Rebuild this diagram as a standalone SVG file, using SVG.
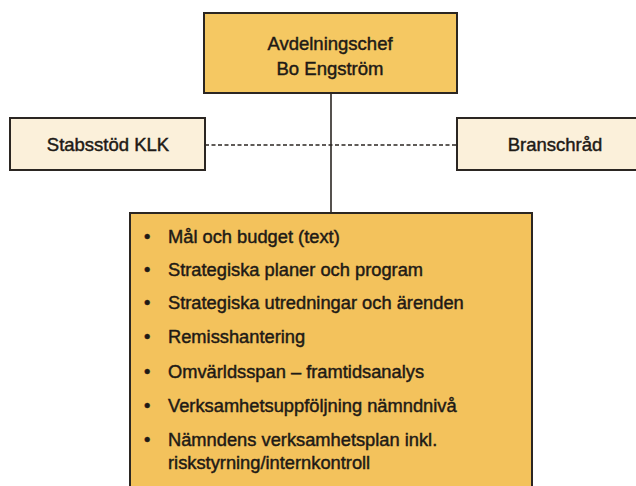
<svg xmlns="http://www.w3.org/2000/svg" width="636" height="486" viewBox="0 0 636 486">
<style>
.box{stroke:#2b2622;stroke-width:2}
.gold{fill:#F5C862}
.gold2{fill:#F3C25C}
.cream{fill:#FBF0DA}
.t{font-family:"Liberation Sans",Arial,sans-serif;fill:#1e1a16;stroke:#1e1a16;stroke-width:0.45}
.h{font-size:18.5px;text-anchor:middle}
.b{font-size:18.3px}
.line{stroke:#2b2622;stroke-width:1.6;fill:none}
.dash{stroke:#2b2622;stroke-width:1.3;stroke-dasharray:4 2.5;fill:none}
</style>
<rect width="636" height="486" fill="#ffffff"/>
<g id="connectors">
<line class="line" x1="331" y1="93" x2="331" y2="213"/>
<line class="dash" x1="205" y1="145" x2="457" y2="145"/>
</g>
<g id="top">
<rect class="box gold" x="204" y="13" width="253" height="80"/>
<text class="t h" x="330" y="50">Avdelningschef</text>
<text class="t h" x="330" y="75">Bo Engström</text>
</g>
<g id="stabsstod">
<rect class="box cream" x="10" y="118" width="195" height="52"/>
<text class="t h" x="108" y="151">Stabsstöd KLK</text>
</g>
<g id="branschrad">
<rect class="box cream" x="457" y="118" width="200" height="52"/>
<text class="t h" x="555" y="151">Branschråd</text>
</g>
<g id="tasks">
<rect class="box gold2" x="130" y="213" width="402" height="290"/>
<g class="t b">
<text x="144" y="243">•</text><text x="168" y="243">Mål och budget (text)</text>
<text x="144" y="276">•</text><text x="168" y="276">Strategiska planer och program</text>
<text x="144" y="309">•</text><text x="168" y="309">Strategiska utredningar och ärenden</text>
<text x="144" y="343">•</text><text x="168" y="343">Remisshantering</text>
<text x="144" y="378">•</text><text x="168" y="378">Omvärldsspan – framtidsanalys</text>
<text x="144" y="412">•</text><text x="168" y="412">Verksamhetsuppföljning nämndnivå</text>
<text x="144" y="446">•</text><text x="168" y="446">Nämndens verksamhetsplan inkl.</text>
<text x="168" y="469">riskstyrning/internkontroll</text>
</g>
</g>
</svg>
